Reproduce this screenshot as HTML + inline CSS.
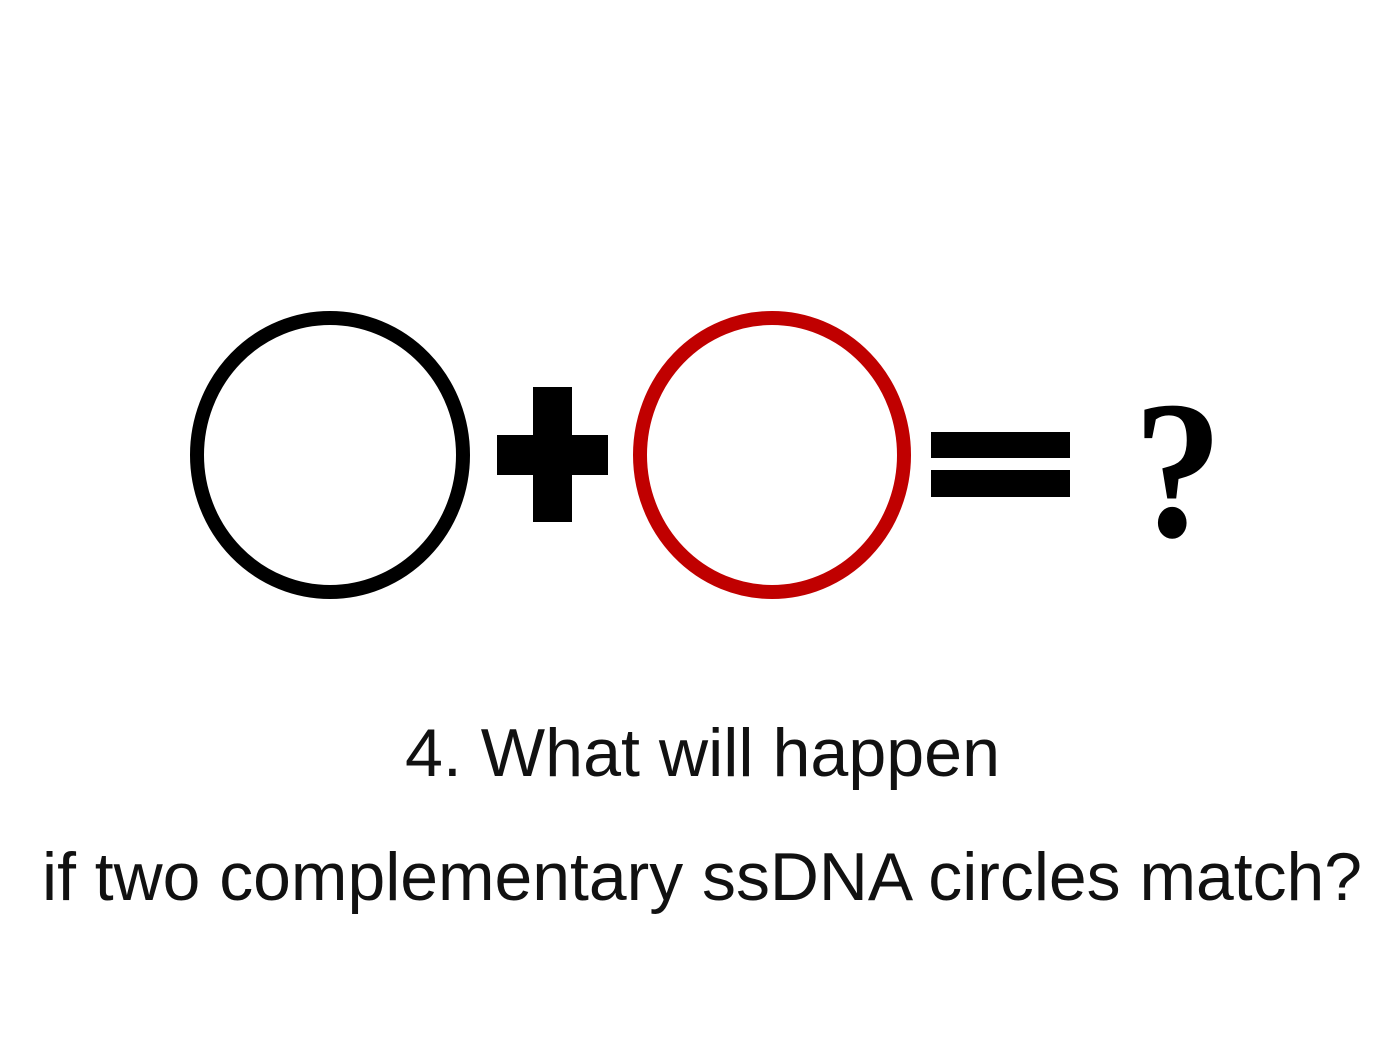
<!DOCTYPE html>
<html><head><style>html,body{margin:0;padding:0;background:#fff}</style></head>
<body>
<svg width="1400" height="1050" viewBox="0 0 1400 1050" xmlns="http://www.w3.org/2000/svg">
<rect width="1400" height="1050" fill="#fff"/>
<ellipse cx="330" cy="455" rx="133" ry="137" fill="none" stroke="#000" stroke-width="14"/>
<rect x="497" y="435" width="111" height="40" fill="#000"/>
<rect x="533" y="387" width="39" height="135" fill="#000"/>
<ellipse cx="772" cy="455" rx="132" ry="137" fill="none" stroke="#c00000" stroke-width="14"/>
<rect x="931" y="432" width="139" height="26" fill="#000"/>
<rect x="931" y="470" width="139" height="27" fill="#000"/>
<text transform="translate(1178,536) scale(0.9,1)" text-anchor="middle" font-family="Liberation Serif, serif" font-weight="bold" font-size="197">?</text>
<text x="405" y="776" font-family="Liberation Sans, sans-serif" font-size="68" fill="#111" textLength="595" lengthAdjust="spacingAndGlyphs">4. What will happen</text>
<text x="42" y="900" font-family="Liberation Sans, sans-serif" font-size="68" fill="#111" textLength="1320" lengthAdjust="spacingAndGlyphs">if two complementary ssDNA circles match?</text>
</svg>
</body></html>
